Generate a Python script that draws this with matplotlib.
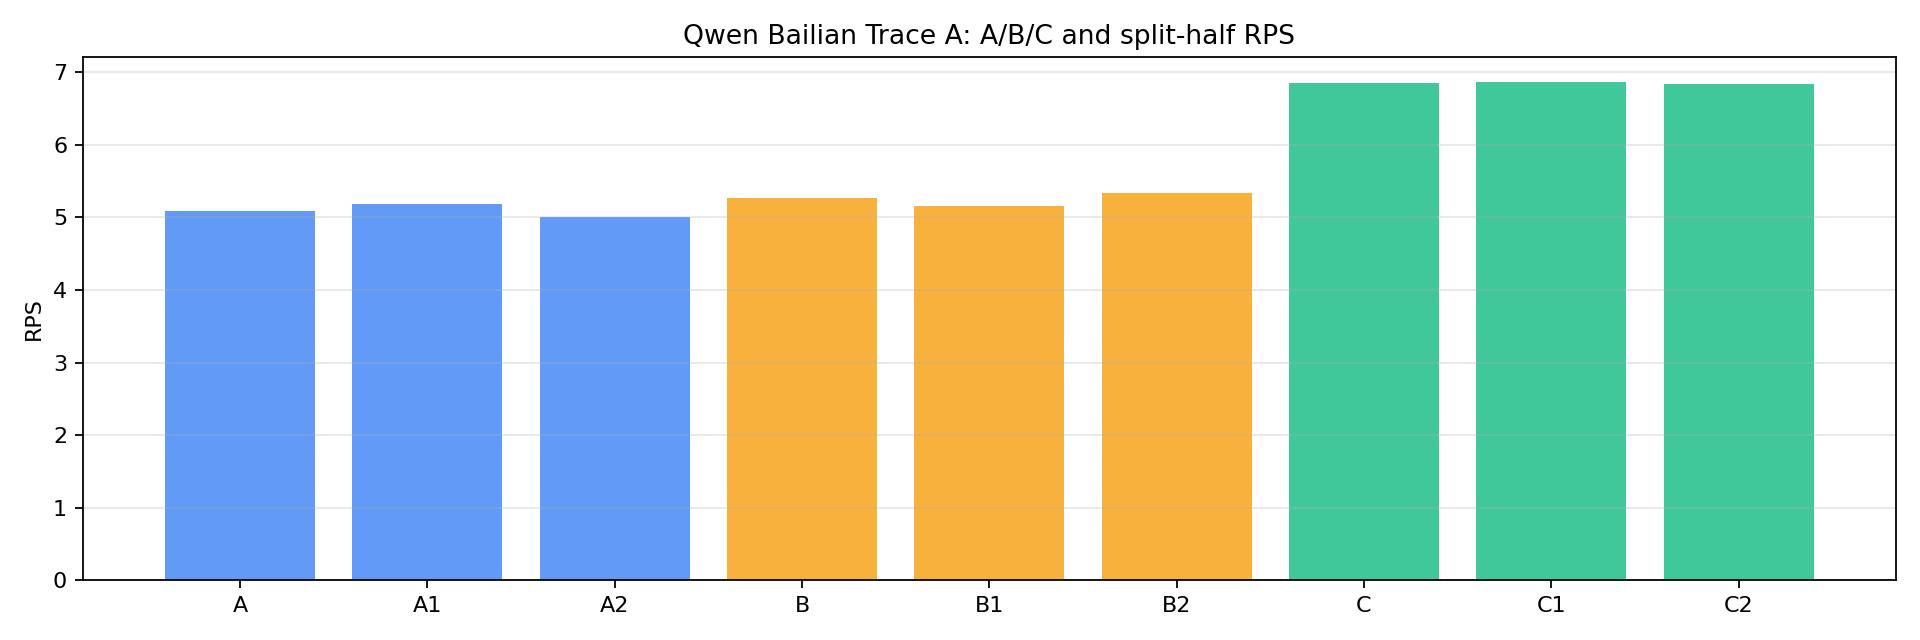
import matplotlib
matplotlib.use("Agg")
import matplotlib.pyplot as plt

labels = ["A", "A1", "A2", "B", "B1", "B2", "C", "C1", "C2"]
rps = [5.09, 5.18, 5.01, 5.26, 5.16, 5.34, 6.85, 6.86, 6.835]
colors = ["#3b82f6"] * 3 + ["#f59e0b"] * 3 + ["#10b981"] * 3

fig, ax = plt.subplots(figsize=(12, 4), dpi=160)
ax.bar(labels, rps, color=colors, alpha=0.8)
ax.set_ylabel("RPS")
ax.set_title("Qwen Bailian Trace A: A/B/C and split-half RPS")
ax.grid(axis="y", alpha=0.3)
fig.tight_layout()
fig.savefig("out.png")
